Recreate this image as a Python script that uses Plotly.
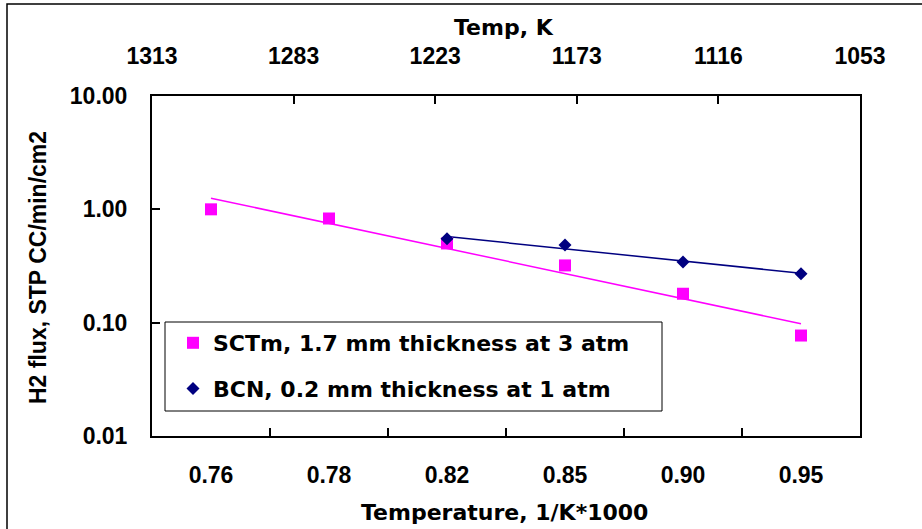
import numpy as np
import plotly.graph_objects as go

# Inverse temperature categories (1/K*1000) and matching temperatures in K
inv_temp = ["0.76", "0.78", "0.82", "0.85", "0.90", "0.95"]
temp_k = ["1313", "1283", "1223", "1173", "1116", "1053"]

# H2 flux, STP cc/min/cm2
sctm_x = ["0.76", "0.78", "0.82", "0.85", "0.90", "0.95"]
sctm_flux = [1.0, 0.83, 0.50, 0.32, 0.18, 0.077]
bcn_x = ["0.82", "0.85", "0.90", "0.95"]
bcn_flux = [0.55, 0.484, 0.343, 0.27]

W, H = 922, 529
L, R, T, B = 152, 860, 96, 436


def px(xp):
    return (xp - L) / (R - L)


def py(yp):
    return (B - yp) / (B - T)


def exp_trend(xcats, vals):
    # exponential trendline fitted against category position (1-based)
    idx = np.array([inv_temp.index(c) + 1 for c in xcats], dtype=float)
    k, b = np.polyfit(idx, np.log10(vals), 1)
    ends = np.array([idx[0], idx[-1]])
    return [xcats[0], xcats[-1]], list(10 ** (k * ends + b))


NUM_FONT = dict(family="Liberation Sans, Arial", size=23, color="black", weight="bold")
WIDE_FONT = dict(family="DejaVu Sans", size=22, color="black", weight="bold")

fig = go.Figure()

tx, ty = exp_trend(sctm_x, sctm_flux)
fig.add_trace(go.Scatter(x=tx, y=ty, mode="lines", line=dict(color="#FF00FF", width=1.5),
                         showlegend=False, hoverinfo="skip"))
tx, ty = exp_trend(bcn_x, bcn_flux)
fig.add_trace(go.Scatter(x=tx, y=ty, mode="lines", line=dict(color="#000080", width=1.5),
                         showlegend=False, hoverinfo="skip"))

fig.add_trace(go.Scatter(x=sctm_x, y=sctm_flux, mode="markers",
                         name="SCTm, 1.7 mm thickness at 3 atm",
                         marker=dict(symbol="square", size=12, color="#FF00FF"),
                         legendgroup="a"))
fig.add_trace(go.Scatter(x=bcn_x, y=bcn_flux, mode="markers",
                         name="BCN, 0.2 mm thickness at 1 atm",
                         marker=dict(symbol="diamond", size=10, color="#000080"),
                         legendgroup="b"))

# carrier for the top temperature axis
fig.add_trace(go.Scatter(x=[0, 5], y=[1, 1], xaxis="x2", mode="markers",
                         marker=dict(opacity=0), showlegend=False, hoverinfo="skip"))

fig.update_layout(
    width=W, height=H,
    margin=dict(l=L, r=W - R, t=T, b=H - B),
    paper_bgcolor="white", plot_bgcolor="white",
    showlegend=True,
    legend=dict(x=px(173), y=py(322), xanchor="left", yanchor="top",
                bgcolor="rgba(0,0,0,0)", borderwidth=0,
                font=WIDE_FONT, tracegroupgap=14, itemsizing="trace",
                itemwidth=30),
    xaxis=dict(type="category", categoryorder="array", categoryarray=inv_temp,
               range=[-0.5, 5.5], tickson="boundaries", ticks="inside", ticklen=8,
               tickcolor="black", tickwidth=1.5, showline=True, linecolor="black",
               linewidth=2, mirror=True, showgrid=False, zeroline=False,
               tickfont=NUM_FONT, ticklabelstandoff=17),
    xaxis2=dict(overlaying="x", side="top", range=[0, 5], tickmode="array",
                tickvals=[0, 1, 2, 3, 4, 5], ticktext=temp_k, ticks="inside",
                ticklen=8, tickcolor="black", tickwidth=1.5, showline=False,
                showgrid=False, zeroline=False, tickfont=NUM_FONT,
                ticklabelstandoff=26),
    yaxis=dict(type="log", range=[-2, 1], tickmode="array",
               tickvals=[0.01, 0.1, 1, 10], ticktext=["0.01", "0.10", "1.00", "10.00"],
               ticks="inside", ticklen=8, tickcolor="black", tickwidth=1.5,
               showline=True, linecolor="black", linewidth=2, mirror=True,
               showgrid=False, zeroline=False, tickfont=NUM_FONT,
               ticklabelstandoff=18),
    annotations=[
        dict(text="Temp, K", x=px(504), y=py(27), xref="paper", yref="paper",
             showarrow=False, font=WIDE_FONT, xanchor="center", yanchor="middle"),
        dict(text="Temperature, 1/K*1000", x=px(504), y=py(512), xref="paper",
             yref="paper", showarrow=False, font=WIDE_FONT,
             xanchor="center", yanchor="middle"),
        dict(text="H2 flux, STP CC/min/cm2", x=px(38), y=py(268), xref="paper",
             yref="paper", showarrow=False, textangle=-90, font=NUM_FONT,
             xanchor="center", yanchor="middle"),
    ],
    shapes=[
        # outer chart frame
        dict(type="rect", xref="paper", yref="paper", x0=px(7), y0=py(545),
             x1=px(940), y1=py(4), line=dict(color="black", width=1.5)),
        # legend box
        dict(type="rect", xref="paper", yref="paper", x0=px(165), y0=py(411),
             x1=px(662), y1=py(322), line=dict(color="black", width=1),
             fillcolor="white", layer="above"),
    ],
)

fig.write_html("out.html")
